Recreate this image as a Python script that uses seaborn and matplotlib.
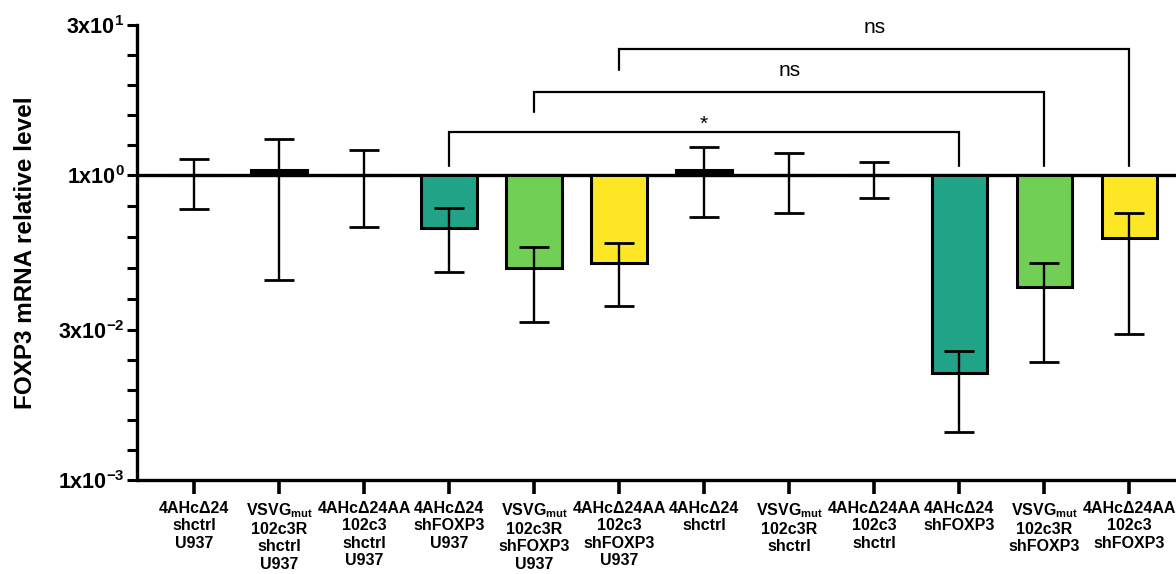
import numpy as np
import pandas as pd
import matplotlib
matplotlib.use("Agg")
import matplotlib.pyplot as plt
import seaborn as sns

# ---------------- data ----------------
categories = [
    "4AHc\u039424\nshctrl\nU937",
    "VSVG$_{mut}$\n102c3R\nshctrl\nU937",
    "4AHc\u039424AA\n102c3\nshctrl\nU937",
    "4AHc\u039424\nshFOXP3\nU937",
    "VSVG$_{mut}$\n102c3R\nshFOXP3\nU937",
    "4AHc\u039424AA\n102c3\nshFOXP3\nU937",
    "4AHc\u039424\nshctrl",
    "VSVG$_{mut}$\n102c3R\nshctrl",
    "4AHc\u039424AA\n102c3\nshctrl",
    "4AHc\u039424\nshFOXP3",
    "VSVG$_{mut}$\n102c3R\nshFOXP3",
    "4AHc\u039424AA\n102c3\nshFOXP3",
]
mean_level = [1.0, 1.12, 1.0, 0.30, 0.122, 0.136, 1.12, 1.0, 1.0, 0.0112, 0.079, 0.24]
err_low = [0.46, 0.093, 0.31, 0.111, 0.0357, 0.0514, 0.386, 0.42, 0.59, 0.00295, 0.0144, 0.0272]
err_high = [1.44, 2.26, 1.76, 0.48, 0.195, 0.214, 1.89, 1.65, 1.34, 0.0185, 0.136, 0.42]
bar_colors = ["black", "black", "black", "#20A386", "#72CF56", "#FDE725",
              "black", "black", "black", "#20A386", "#72CF56", "#FDE725"]

ytick_values = [30, 1, 0.03, 0.001]
ytick_labels = ["3x10$^{1}$", "1x10$^{0}$", "3x10$^{-2}$", "1x10$^{-3}$"]

# significance comparisons: (left index, right index, label)
comparisons = [(3, 9, "*"), (4, 10, "ns"), (5, 11, "ns")]

# ---------------- style ----------------
sns.set_theme(style="ticks")
plt.rcParams["font.family"] = ["Liberation Sans", "DejaVu Sans"]
plt.rcParams["mathtext.fontset"] = "custom"
plt.rcParams["mathtext.rm"] = "Liberation Sans:bold"
plt.rcParams["mathtext.bf"] = "Liberation Sans:bold"
plt.rcParams["mathtext.it"] = "Liberation Sans:bold"
plt.rcParams["mathtext.sf"] = "Liberation Sans:bold"
plt.rcParams["mathtext.default"] = "rm"
plt.rcParams["text.color"] = "black"
plt.rcParams["axes.labelcolor"] = "black"

fig = plt.figure(figsize=(11.76, 5.74), dpi=100)
ax = fig.add_axes([137 / 1176, 1 - 480 / 574, (1176 - 137) / 1176, 455 / 574])

# work in log10 space so bars grow from the 1x10^0 baseline
df = pd.DataFrame({"group": categories, "log_level": np.log10(mean_level)})
sns.barplot(data=df, x="group", y="log_level", hue="group", order=categories,
            palette=dict(zip(categories, bar_colors)), legend=False,
            width=0.65, edgecolor="black", linewidth=2.2, saturation=1,
            errorbar=None, ax=ax, zorder=2)

pos = np.arange(len(categories))
lm = np.log10(mean_level)
lo = np.log10(err_low)
hi = np.log10(err_high)
ax.errorbar(pos, lm, yerr=[lm - lo, hi - lm], fmt="none", ecolor="black",
            elinewidth=1.7, capsize=11, capthick=2.0, zorder=3)

ax.axhline(0, color="black", lw=2.4, zorder=1)

# significance brackets
bracket_y = [0.423, 0.817, 1.24]
left_leg_y = [0.089, 0.62, 1.033]
right_leg_y = 0.089
for (i, j, lab), by, ly in zip(comparisons, bracket_y, left_leg_y):
    ax.plot([i, i, j, j], [ly, by, by, right_leg_y], color="black", lw=1.6,
            solid_joinstyle="miter", zorder=3)
    off = 1.5 if lab == "*" else 11.5
    ax.annotate(lab, xy=((i + j) / 2, by), xytext=(0, off), textcoords="offset points",
                ha="center", va="baseline", fontsize=15, color="black")

# axes
ax.set_xlim(-0.67, 11.55)
ax.set_ylim(np.log10(0.001), np.log10(30))
major = np.log10(ytick_values)
ax.set_yticks(major)
ax.set_yticklabels(ytick_labels, fontsize=15.5, fontweight="bold")
minor = []
for a, b in zip(major[:-1], major[1:]):
    minor.extend(np.linspace(a, b, 6)[1:-1])
ax.set_yticks(minor, minor=True)
ax.tick_params(axis="y", which="both", length=7, width=2.2, pad=2, colors="black")
ax.tick_params(axis="x", length=10, width=2.6, pad=5, colors="black")
ax.set_xticks(pos)
ax.set_xticklabels(categories, fontsize=11.5, fontweight="bold", linespacing=1.2)
ax.set_xlabel("")
ax.set_ylabel("FOXP3 mRNA relative level", fontsize=17.5, fontweight="bold",
              labelpad=15, color="black")

sns.despine(ax=ax)
for s in ["left", "bottom"]:
    ax.spines[s].set_linewidth(2.4)
    ax.spines[s].set_color("black")
ax.spines["bottom"].set_capstyle("butt")

fig.savefig("out.png", dpi=100)
